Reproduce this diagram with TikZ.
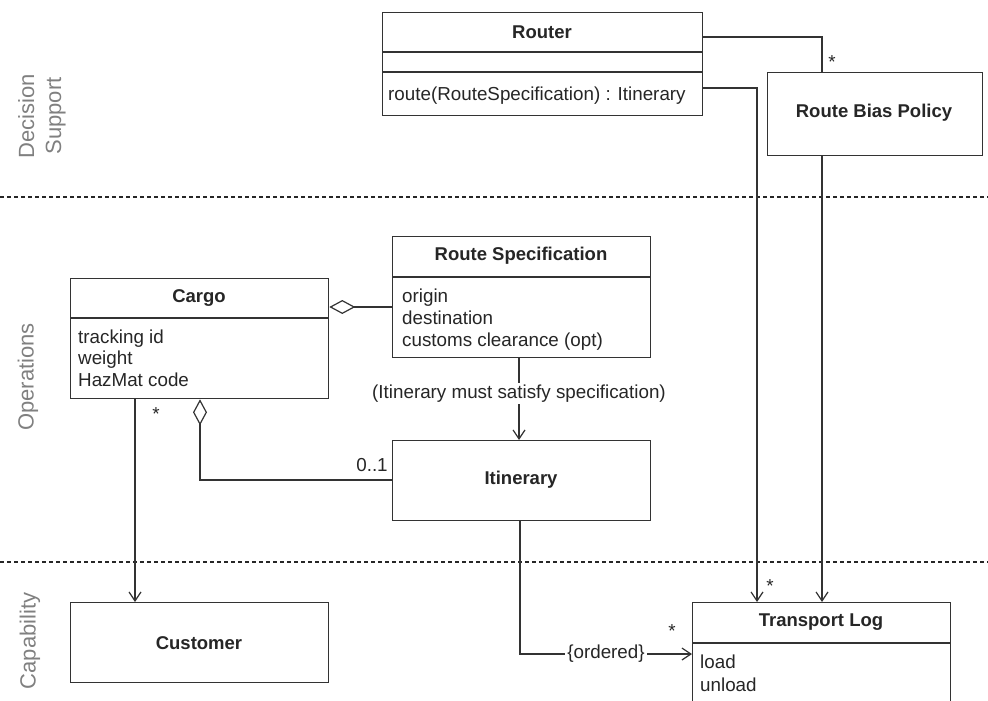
\documentclass[tikz,border=0pt]{standalone}
\usepackage{fontspec}
\setmainfont{Liberation Sans}
\usetikzlibrary{arrows.meta,calc}
\begin{document}
\begin{tikzpicture}[x=1pt,y=-1pt,
  every node/.style={font=\fontsize{18.8}{22}\selectfont, text=black!85},
  box/.style={draw=black!80, line width=1.3pt, fill=white, anchor=north west, inner sep=0pt},
  title/.style={font=\fontsize{18.5}{22}\selectfont\bfseries},
  attr/.style={anchor=base west, inner sep=0pt},
  ln/.style={draw=black!80, line width=1.2pt},
  arr/.style={ln, -{Straight Barb[length=9pt,width=12pt,line width=1.2pt]}},
  agg/.style={ln, {Diamond[open,length=26pt,width=14pt,line width=1.2pt]}-},
  side/.style={rotate=90, text=black!50, font=\fontsize{22}{27}\selectfont, align=center},
  sep/.style={draw=black!85, line width=1.6pt, dash pattern=on 4pt off 3pt},
  mult/.style={inner sep=1pt}]
\useasboundingbox (0,0) rectangle (988,701);
\clip (0,0) rectangle (988,701);

% swimlane separators
\draw[sep] (0,197) -- (988,197);
\draw[sep] (0,562) -- (988,562);

% side labels
\node[side] (lds) at (42,116) {Decision\\Support};
\node[side] (lop) at (28,377) {Operations};
\node[side] (lcap) at (30,641) {Capability};

% Router
\node[box, minimum width=320pt, minimum height=103pt] (router) at (382,12) {};
\draw[ln] (router.west |- 0,52) -- (router.east |- 0,52);
\draw[ln] (router.west |- 0,72) -- (router.east |- 0,72);
\node[title] (routert) at (542,32) {Router};
\node[attr] (routerm) at (388,100) {route(RouteSpecification) : Itinerary};

% Route Bias Policy
\node[box, minimum width=215pt, minimum height=83pt] (rbp) at (767,72) {};
\node[title] (rbpt) at (874,113) {Route Bias Policy};

% Route Specification
\node[box, minimum width=258pt, minimum height=121pt] (spec) at (392,236) {};
\draw[ln] (spec.west |- 0,277) -- (spec.east |- 0,277);
\node[title] (spect) at (521,256) {Route Specification};
\node[attr] (spec1) at (402,302) {origin};
\node[attr] (spec2) at (402,324) {destination};
\node[attr] (spec3) at (402,346) {customs clearance (opt)};

% Cargo
\node[box, minimum width=258pt, minimum height=120pt] (cargo) at (70,278) {};
\draw[ln] (cargo.west |- 0,318) -- (cargo.east |- 0,318);
\node[title] (cargot) at (199,298) {Cargo};
\node[attr] (cargo1) at (78,343) {tracking id};
\node[attr] (cargo2) at (78,364) {weight};
\node[attr] (cargo3) at (78,386) {HazMat code};

% Itinerary
\node[box, minimum width=258pt, minimum height=80pt] (itin) at (392,440) {};
\node[title] (itint) at (521,480) {Itinerary};

% Customer
\node[box, minimum width=258pt, minimum height=80pt] (cust) at (70,602) {};
\node[title] (custt) at (199,643) {Customer};

% Transport Log
\node[box, minimum width=258pt, minimum height=130pt] (tlog) at (692,602) {};
\draw[ln] (tlog.west |- 0,643) -- (tlog.east |- 0,643);
\node[title] (tlogt) at (821,622) {Transport Log};
\node[attr] (tlog1) at (700,668) {load};
\node[attr] (tlog2) at (700,691) {unload};

% connectors
\draw[ln] (router.east |- 0,37) -| (rbp.north -| 822,0);
\node[mult] (m1) at (832,62) {*};
\draw[arr] (router.east |- 0,88) -| (tlog.north -| 757,0);
\node[mult] (m2) at (770,586) {*};
\draw[arr] (rbp.south -| 822,0) -- (tlog.north -| 822,0);

\draw[agg] (cargo.east |- 0,307) -- (spec.west |- 0,307);

\draw[arr] (spec.south -| 519,0) -- node[pos=0.43, fill=white, inner sep=2pt] (deplab) {(Itinerary must satisfy specification)} (itin.north -| 519,0);

\draw[agg] (cargo.south -| 200,0) |- (itin.west |- 0,480);
\node[mult] (m3) at (372,465) {0..1};

\draw[arr] (cargo.south -| 135,0) -- (cust.north -| 135,0);
\node[mult] (m4) at (156,414) {*};

\draw[arr] (itin.south -| 520,0) |- node[pos=0.75, fill=white, inner sep=2pt] (ordlab) {\{ordered\}} (tlog.west |- 0,654);
\node[mult] (m5) at (672,631) {*};
\end{tikzpicture}
\end{document}
